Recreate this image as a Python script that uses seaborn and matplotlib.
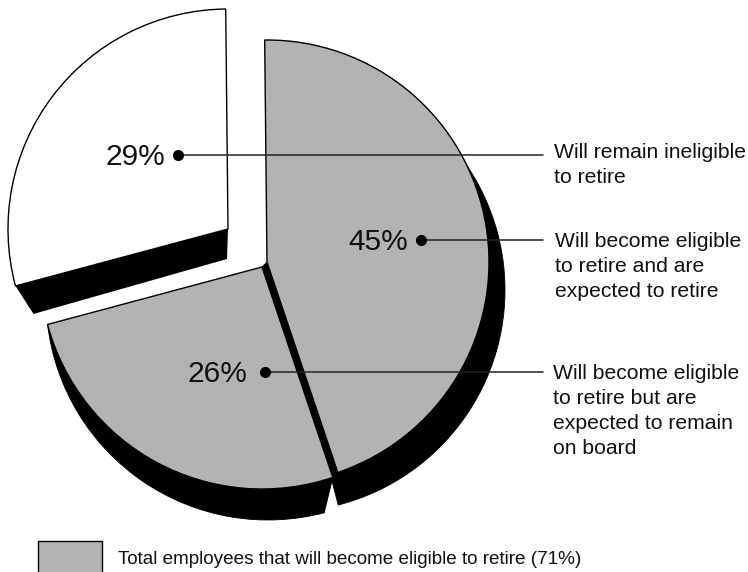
import numpy as np
import matplotlib
matplotlib.use('Agg')
import matplotlib.pyplot as plt
from matplotlib.patches import Rectangle
import seaborn as sns

sns.set_theme(style='white', font='Liberation Sans')

values = [45, 26, 29]
pct_labels = ['45%', '26%', '29%']
callouts = [
    'Will become eligible\nto retire and are\nexpected to retire',
    'Will become eligible\nto retire but are\nexpected to remain\non board',
    'Will remain ineligible\nto retire',
]
legend_text = 'Total employees that will become eligible to retire (71%)'

GRAY = '#b3b3b3'
H = 572
R = 222


def flip(x, y):
    # picture coords (y down) to axes coords
    return x, H - y


def band(center, r, theta, apex_off, rim_off):
    # dark side of a cut edge, worked out from the slice angle
    cx, cy = center
    rx, ry = cx + r * np.cos(np.radians(theta)), cy + r * np.sin(np.radians(theta))
    return ([cx, rx, rx + rim_off[0], cx + apex_off[0]],
            [cy, ry, ry - rim_off[1], cy - apex_off[1]])


fig = plt.figure(figsize=(7.48, 5.72), dpi=100)
ax = fig.add_axes([0, 0, 1, 1])

centers = [flip(267, 262), flip(262, 267), flip(228, 229)]
start = 90.6

# shadows first
shadow, _ = ax.pie(values, radius=R, startangle=start, counterclock=False,
                   colors=['black'] * 3, wedgeprops=dict(edgecolor='black', linewidth=0.6, zorder=1))
shadow[0].set_center(flip(283, 290))
shadow[0].set_theta1(-75.6)
shadow[1].set_center(flip(268, 298))
shadow[1].set_theta1(-173)
shadow[1].set_theta2(-75.2)
shadow[2].set_visible(False)

wedges, _ = ax.pie(values, radius=R, startangle=start, counterclock=False,
                   colors=[GRAY, GRAY, 'white'],
                   wedgeprops=dict(edgecolor='black', linewidth=1, zorder=3))
for w, c in zip(wedges, centers):
    w.set_center(c)
wedges[2].set_radius(220)

edge_big = wedges[0].theta1
edge_mid = wedges[1].theta1
ax.fill(*band(centers[0], R, edge_big, (-5, 5), (-8, 7)), color='black', lw=0.6, zorder=2)
ax.fill(*band(centers[1], R, edge_big, (2, 31), (-8.5, 35)), color='black', lw=0.6, zorder=2)
ax.fill(*band(centers[2], 220, edge_mid, (-1, 30), (18, 28)), color='black', lw=0, zorder=2)

# callouts
dots = [(421, 240), (265, 372), (178, 155)]
pct_gaps = [13, 18, 13]
note_x = [555, 553, 554]
note_tops = [232, 364, 143]
for (x, y), pct, note, gap, nx, top in zip(dots, pct_labels, callouts, pct_gaps, note_x, note_tops):
    px, py = flip(x, y)
    ax.plot([px, 543], [py, py], color='#222222', lw=1.1, zorder=4)
    ax.plot(px, py, 'o', color='black', ms=7, zorder=5)
    ax.text(px - gap, py - 2, pct, ha='right', va='center', fontsize=21.5, color='#111111', zorder=5)
    ax.text(nx, H - top, note, ha='left', va='top', fontsize=15.2, linespacing=1.4, color='#111111')

# legend swatch runs off the bottom of the page
ax.add_patch(Rectangle(flip(38, 541), 64, -40, facecolor=GRAY, edgecolor='black', lw=1, clip_on=True))
ax.text(118, H - 559, legend_text, ha='left', va='center', fontsize=13.55, color='#111111')

ax.set_xlim(0, 748)
ax.set_ylim(0, H)
ax.set_aspect('equal')
ax.axis('off')
fig.savefig('out.png', dpi=100)
